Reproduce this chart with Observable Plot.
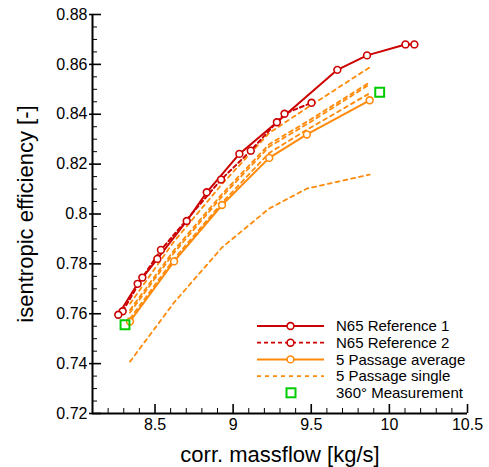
<!DOCTYPE html>
<html><head><meta charset="utf-8">
<script src="https://cdn.jsdelivr.net/npm/d3@7"></script>
<script src="https://cdn.jsdelivr.net/npm/@observablehq/plot@0.6"></script>
<style>
body{margin:0;background:#fff;}
#wrap{position:relative;width:489px;height:467px;font-family:"Liberation Sans",Arial,Helvetica,sans-serif;}
#legend{position:absolute;left:0;top:0;pointer-events:none;}
</style></head><body><div id="wrap"></div>
<script>
// ---- data ----
const ref1X = [8.265, 8.389, 8.515, 8.703, 8.831, 9.040, 9.280, 9.667, 9.857, 10.103, 10.160];
const ref1Y = [0.7596, 0.7720, 0.7820, 0.7972, 0.8087, 0.8241, 0.8368, 0.8578, 0.8636, 0.8680, 0.8680];
const ref2X = [8.293, 8.419, 8.538, 8.923, 9.113, 9.329, 9.502];
const ref2Y = [0.7610, 0.7745, 0.7856, 0.8138, 0.8254, 0.8402, 0.8446];
const avgX = [8.340, 8.622, 8.929, 9.231, 9.472, 9.874];
const avgY = [0.7569, 0.7810, 0.8036, 0.8225, 0.8319, 0.8456];
const single1 = [0.7640, 0.7890, 0.8120, 0.8325, 0.8425, 0.8588];
const single2 = [0.7615, 0.7855, 0.8080, 0.8280, 0.8370, 0.8528];
const single3 = [0.7605, 0.7845, 0.8070, 0.8270, 0.8360, 0.8520];
const single4 = [0.7580, 0.7820, 0.8045, 0.8245, 0.8338, 0.8484];
const single5 = [0.7408, 0.7645, 0.7866, 0.8022, 0.8102, 0.8158];
const measX = [8.308, 9.938];
const measY = [0.7556, 0.8488];
const xMajor = [8.5, 9, 9.5, 10, 10.5];
const xMinor = [8.2, 8.3, 8.4, 8.6, 8.7, 8.8, 8.9, 9.1, 9.2, 9.3, 9.4, 9.6, 9.7, 9.8, 9.9, 10.1, 10.2, 10.3, 10.4];
const yMajor = [0.72, 0.74, 0.76, 0.78, 0.80, 0.82, 0.84, 0.86, 0.88];
const yMinor = [0.725, 0.73, 0.735, 0.745, 0.75, 0.755, 0.765, 0.77, 0.775, 0.785, 0.79, 0.795, 0.805, 0.81, 0.815, 0.825, 0.83, 0.835, 0.845, 0.85, 0.855, 0.865, 0.87, 0.875];
const legendLabels = ["N65 Reference 1", "N65 Reference 2", "5 Passage average", "5 Passage single", "360° Measurement"];
const xLabel = "corr. massflow [kg/s]";
const yLabel = "isentropic efficiency [-]";

// ---- tables ----
const RED = "#cc0000", ORANGE = "#ff8a0a", GREEN = "#00cc00";
const ref1 = ref1X.map((x, i) => ({x, y: ref1Y[i]}));
const ref2 = ref2X.map((x, i) => ({x, y: ref2Y[i]}));
const avg = avgX.map((x, i) => ({x, y: avgY[i]}));
const singles = [single1, single2, single3, single4, single5].flatMap((s, k) => s.map((y, i) => ({x: avgX[i], y, k})));
const meas = measX.map((x, i) => ({x, y: measY[i]}));
const FONT = '"Liberation Sans", Arial, Helvetica, sans-serif';

const chart = Plot.plot({
  width: 489, height: 467,
  marginLeft: 92, marginRight: 22, marginTop: 14, marginBottom: 54,
  x: {domain: [8.1, 10.5]},
  y: {domain: [0.72, 0.88]},
  style: {fontFamily: FONT, fontSize: "16px", color: "#000", background: "white", overflow: "visible"},
  marks: [
    Plot.axisX(xMajor, {tickSize: 0, tickPadding: 5, fontSize: 16, label: null, tickFormat: d => `${d}`}),
    Plot.axisY(yMajor, {tickSize: 0, tickPadding: 5, fontSize: 16, label: null, tickFormat: d => `${d}`}),
    Plot.ruleX(xMajor, {x: d => d, y1: 0.72, y2: 0.72, insetTop: -9, strokeWidth: 1.6, stroke: "#000"}),
    Plot.ruleX(xMinor, {x: d => d, y1: 0.72, y2: 0.72, insetTop: -5, strokeWidth: 1, stroke: "#000"}),
    Plot.ruleY(yMajor, {y: d => d, x1: 8.1, x2: 8.1, insetLeft: -3, insetRight: -9, strokeWidth: 1.6, stroke: "#000"}),
    Plot.ruleY(yMinor, {y: d => d, x1: 8.1, x2: 8.1, insetRight: -5, strokeWidth: 1, stroke: "#000"}),
    Plot.ruleX([8.1], {strokeWidth: 2, stroke: "#000"}),
    Plot.ruleY([0.72], {strokeWidth: 2, stroke: "#000"}),
    Plot.line(singles, {x: "x", y: "y", z: "k", stroke: ORANGE, strokeWidth: 1.8, strokeDasharray: "4,4"}),
    Plot.line(avg, {x: "x", y: "y", stroke: ORANGE, strokeWidth: 2}),
    Plot.dot(avg, {x: "x", y: "y", r: 3.4, stroke: ORANGE, strokeWidth: 1.6, fill: "white"}),
    Plot.line(ref2, {x: "x", y: "y", stroke: RED, strokeWidth: 2, strokeDasharray: "4,3"}),
    Plot.line(ref1, {x: "x", y: "y", stroke: RED, strokeWidth: 2}),
    Plot.dot(ref2, {x: "x", y: "y", r: 3.4, stroke: RED, strokeWidth: 1.6, fill: "white"}),
    Plot.dot(ref1, {x: "x", y: "y", r: 3.4, stroke: RED, strokeWidth: 1.6, fill: "white"}),
    Plot.dot(meas, {x: "x", y: "y", symbol: "square", r: 5, stroke: GREEN, strokeWidth: 2, fill: "none"}),
    Plot.text([yLabel], {frameAnchor: "left", textAnchor: "middle", lineAnchor: "middle", rotate: -90, dx: -67, fontSize: 22, fill: "#000"}),
    Plot.text([xLabel], {frameAnchor: "bottom", textAnchor: "middle", lineAnchor: "middle", dy: 41, fontSize: 22, fill: "#000"})
  ]
});
const wrap = document.getElementById("wrap");
wrap.appendChild(chart);

// ---- legend overlay ----
const styles = [
  {stroke: RED, dash: null, marker: "circle"},
  {stroke: RED, dash: "4,3", marker: "circle"},
  {stroke: ORANGE, dash: null, marker: "circle"},
  {stroke: ORANGE, dash: "4,4", marker: null},
  {stroke: GREEN, dash: null, marker: "square", noLine: true}
];
const svg = d3.select(wrap).append("svg").attr("id", "legend").attr("width", 489).attr("height", 467)
  .style("font-family", FONT);
const y0 = 326, dyRow = 16.7;
legendLabels.forEach((lab, i) => {
  const s = styles[i], yy = y0 + i * dyRow;
  const g = svg.append("g");
  if (!s.noLine) g.append("line").attr("x1", 257).attr("x2", 324).attr("y1", yy).attr("y2", yy)
    .attr("stroke", s.stroke).attr("stroke-width", s.dash ? 1.8 : 2).attr("stroke-dasharray", s.dash);
  if (s.marker === "circle") g.append("circle").attr("cx", 290.5).attr("cy", yy).attr("r", 3.4)
    .attr("fill", "white").attr("stroke", s.stroke).attr("stroke-width", 1.6);
  if (s.marker === "square") g.append("rect").attr("x", 286.5).attr("y", yy - 4.5).attr("width", 9).attr("height", 9)
    .attr("fill", "none").attr("stroke", s.stroke).attr("stroke-width", 2);
  g.append("text").attr("x", 336).attr("y", yy).attr("dy", "0.35em").attr("font-size", 15).attr("fill", "#000").text(lab);
});
</script>
</body></html>
